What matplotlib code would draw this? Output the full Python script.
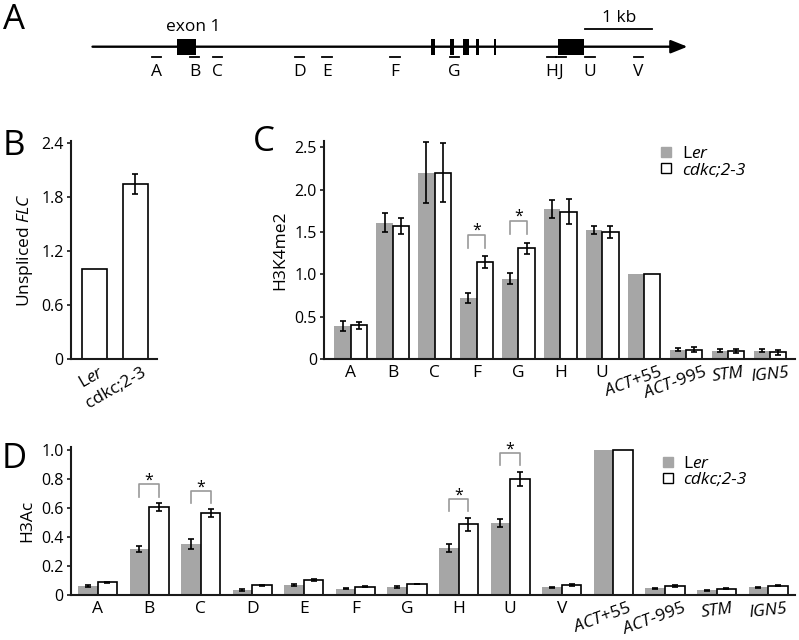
import numpy as np
import matplotlib
matplotlib.use("Agg")
import matplotlib.pyplot as plt
from matplotlib.patches import Rectangle
from matplotlib.lines import Line2D
from matplotlib.transforms import ScaledTranslation

plt.rcParams['font.family'] = ['Open Sans', 'DejaVu Sans']
plt.rcParams['mathtext.fontset'] = 'custom'
plt.rcParams['mathtext.rm'] = 'Open Sans'
plt.rcParams['mathtext.it'] = 'Open Sans:italic'

# ---- panel A: FLC gene schematic (positions in kb from exon 1 start)
gene_start = -1.26
gene_end = 7.58
exon_starts = [0.0, 3.775, 4.056, 4.238, 4.438, 4.703, 5.661]
exon_ends = [0.278, 3.835, 4.116, 4.328, 4.478, 4.739, 6.048]
primer_names = ['A', 'B', 'C', 'D', 'E', 'F', 'G', 'H', 'J', 'U', 'V']
primer_pos = [-0.306, 0.256, 0.597, 1.816, 2.224, 3.235, 4.116, 5.563, 5.700, 6.132, 6.850]
scale_bar = [6.058, 7.058]

# ---- panel B: unspliced FLC
b_labels = ['L$\\mathit{er}$', 'cdkc;2-3']
b_values = [1.0, 1.94]
b_err = [0, 0.11]

# ---- panel C: H3K4me2
cats_c = ['A', 'B', 'C', 'F', 'G', 'H', 'U', 'ACT+55', 'ACT-995', 'STM', 'IGN5']
ler_c = [0.39, 1.61, 2.20, 0.72, 0.95, 1.775, 1.52, 1.0, 0.11, 0.10, 0.10]
ler_c_err = [0.06, 0.11, 0.36, 0.055, 0.06, 0.105, 0.045, 0, 0.02, 0.02, 0.02]
cdkc_c = [0.40, 1.57, 2.20, 1.14, 1.31, 1.74, 1.50, 1.0, 0.11, 0.09, 0.08]
cdkc_c_err = [0.04, 0.09, 0.345, 0.07, 0.065, 0.145, 0.07, 0, 0.03, 0.025, 0.03]
sig_c = ['F', 'G']

# ---- panel D: H3Ac
cats_d = ['A', 'B', 'C', 'D', 'E', 'F', 'G', 'H', 'U', 'V', 'ACT+55', 'ACT-995', 'STM', 'IGN5']
ler_d = [0.062, 0.317, 0.352, 0.034, 0.069, 0.044, 0.053, 0.327, 0.497, 0.053, 1.0, 0.046, 0.034, 0.053]
ler_d_err = [0.005, 0.02, 0.037, 0.005, 0.008, 0.003, 0.006, 0.028, 0.026, 0.003, 0, 0.003, 0.003, 0.004]
cdkc_d = [0.087, 0.607, 0.563, 0.067, 0.101, 0.058, 0.076, 0.487, 0.80, 0.067, 1.0, 0.06, 0.044, 0.065]
cdkc_d_err = [0.005, 0.027, 0.028, 0.003, 0.006, 0.003, 0.002, 0.045, 0.05, 0.006, 0, 0.006, 0.005, 0.004]
sig_d = ['B', 'C', 'H', 'U']

GREY = '#a6a6a6'
INK = '#1a1a1a'
W, H = 799, 640

display = {'ACT+55': '$\\mathit{ACT}$+55', 'ACT-995': '$\\mathit{ACT}$-995'}
italic_labels = ['STM', 'IGN5']
rot = {'ACT+55': 20, 'ACT-995': 20, 'STM': 8, 'IGN5': 6}

fig = plt.figure(figsize=(W / 100, H / 100), dpi=100)


def px_axes(left, top, right, bottom):
    return fig.add_axes([left / W, 1 - bottom / H, (right - left) / W, (bottom - top) / H])


def style_axes(ax):
    for s in ['top', 'right']:
        ax.spines[s].set_visible(False)
    for s in ['left', 'bottom']:
        ax.spines[s].set_linewidth(1.5)
        ax.spines[s].set_color(INK)
    ax.tick_params(axis='y', direction='out', length=3, width=1.2, labelsize=11.5, pad=2, color=INK)
    ax.tick_params(axis='x', length=0, labelsize=12.5, pad=4)


def panel_letter(x, y, s):
    fig.text(x / W, 1 - y / H, s, fontsize=25, ha='center', va='center')


# ---------------- panel A
axA = fig.add_axes([0, 1 - 100 / H, 1, 100 / H])
kb = 67.3
axA.set_xlim(-177.3 / kb, (W - 177.3) / kb)
axA.set_ylim(-53.3, 46.7)
axA.axis('off')
axA.annotate('', xy=(gene_end, 0), xytext=(gene_start, 0),
             arrowprops=dict(arrowstyle='-|>,head_length=1.0,head_width=0.4', lw=1.7,
                             color='black', mutation_scale=10, shrinkA=0, shrinkB=0))
for s, e in zip(exon_starts, exon_ends):
    axA.add_patch(Rectangle((s, -8), e - s, 16, color='black', lw=0))
axA.text((exon_starts[0] + exon_ends[0]) / 2 + 0.1, 19.5, 'exon 1', fontsize=12.5, ha='center', va='center')
for name, p in zip(primer_names, primer_pos):
    axA.plot([p - 0.07, p + 0.07], [-10.6, -10.6], color='black', lw=1.3)
    axA.text(p, -25, name, fontsize=12.5, ha='center', va='center')
axA.plot(scale_bar, [17.4, 17.4], color='black', lw=1.3)
axA.text(np.mean(scale_bar), 29, '1 kb', fontsize=12.5, ha='center', va='center')
panel_letter(14, 20, 'A')

# ---------------- panel B
axB = px_axes(70.7, 140.7, 156.7, 359)
style_axes(axB)
xb = np.arange(len(b_values))
axB.bar(xb, b_values, 0.61, color='white', edgecolor='black', lw=1.2)
idx = [i for i, e in enumerate(b_err) if e > 0]
axB.errorbar(xb[idx], np.array(b_values)[idx], yerr=np.array(b_err)[idx], fmt='none',
             ecolor='black', elinewidth=1.2, capsize=2.4, capthick=1.2)
axB.set_xlim(-0.573, 1.524)
axB.set_ylim(0, 2.423)
axB.set_yticks([0, 0.6, 1.2, 1.8, 2.4])
axB.set_yticklabels(['0', '0.6', '1.2', '1.8', '2.4'])
axB.set_xticks(xb)
axB.set_xticklabels(b_labels, rotation=30, ha='right', va='top', rotation_mode='anchor')
for lab in axB.get_xticklabels():
    lab.set_transform(lab.get_transform() + ScaledTranslation(4 / 72, 0, fig.dpi_scale_trans))
axB.set_ylabel('Unspliced $\\mathit{FLC}$', fontsize=12.5)
axB.yaxis.set_label_coords(-0.42, 0.5)
panel_letter(14, 146, 'B')


def draw_chip(ax, cats, ler, ler_err, cdkc, cdkc_err, sig, ylim, width, pad, leg):
    style_axes(ax)
    x = np.arange(len(cats))
    ax.bar(x - width / 2, ler, width, color=GREY, edgecolor='none')
    ax.bar(x + width / 2, cdkc, width, color='white', edgecolor='black', lw=1.2)
    for off, vals, errs in [(-width / 2, ler, ler_err), (width / 2, cdkc, cdkc_err)]:
        idx = [i for i, e in enumerate(errs) if e > 0]
        ax.errorbar(x[idx] + off, np.array(vals)[idx], yerr=np.array(errs)[idx], fmt='none',
                    ecolor='black', elinewidth=1.2, capsize=2.2, capthick=1.2, zorder=3)
    for c in sig:
        i = cats.index(c)
        bot = cdkc[i] + cdkc_err[i] + pad
        top = bot + leg
        ax.plot([i - width / 2, i - width / 2, i + width / 2, i + width / 2],
                [bot, top, top, bot], color='#999999', lw=1.2)
        ax.text(i, top + 0.022 * ylim, '*', fontsize=11.5, ha='center', va='center')
    ax.set_ylim(0, ylim)
    ax.set_xticks(x)
    ax.set_xticklabels([display.get(c, c) for c in cats])
    for c, lab in zip(cats, ax.get_xticklabels()):
        if c in rot:
            lab.set_rotation(rot[c])
        if c in italic_labels:
            lab.set_fontstyle('italic')
        if c.startswith('ACT'):
            lab.set_transform(lab.get_transform() + ScaledTranslation(-8 / 72, 0, fig.dpi_scale_trans))
    handles = [Line2D([], [], ls='none', marker='s', markersize=7.5, markerfacecolor=GREY, markeredgecolor=GREY),
               Line2D([], [], ls='none', marker='s', markersize=7.5, markerfacecolor='white',
                      markeredgecolor='black', markeredgewidth=1.0)]
    return handles


def add_legend(ax, handles, anchor):
    lg = ax.legend(handles, ['L$\\mathit{er}$', 'cdkc;2-3'], loc='upper left',
                   bbox_to_anchor=anchor, frameon=False, fontsize=12.5, handlelength=1.0,
                   handletextpad=0.4, labelspacing=0.0, borderpad=0, borderaxespad=0)
    lg.get_texts()[1].set_fontstyle('italic')


# ---------------- panel C
axC = px_axes(324, 140.7, 795, 359)
hC = draw_chip(axC, cats_c, ler_c, ler_c_err, cdkc_c, cdkc_c_err, sig_c, 2.577, 0.39, 0.1, 0.15)
axC.set_xlim(-0.64, 10.6)
axC.set_yticks([0, 0.5, 1.0, 1.5, 2.0, 2.5])
axC.set_yticklabels(['0', '0.5', '1.0', '1.5', '2.0', '2.5'])
axC.set_ylabel('H3K4me2', fontsize=12.5)
axC.yaxis.set_label_coords(-0.076, 0.5)
add_legend(axC, hC, (0.708, 0.975))
panel_letter(264, 142, 'C')

# ---------------- panel D
axD = px_axes(70.7, 446.7, 795, 595)
hD = draw_chip(axD, cats_d, ler_d, ler_d_err, cdkc_d, cdkc_d_err, sig_d, 1.023, 0.38, 0.044, 0.085)
axD.set_xlim(-0.52, 13.52)
axD.set_yticks([0, 0.2, 0.4, 0.6, 0.8, 1.0])
axD.set_yticklabels(['0', '0.2', '0.4', '0.6', '0.8', '1.0'])
axD.set_ylabel('H3Ac', fontsize=12.5)
axD.yaxis.set_label_coords(-0.049, 0.5)
add_legend(axD, hD, (0.812, 0.94))
panel_letter(14, 459, 'D')

fig.savefig('out.png', dpi=100)
